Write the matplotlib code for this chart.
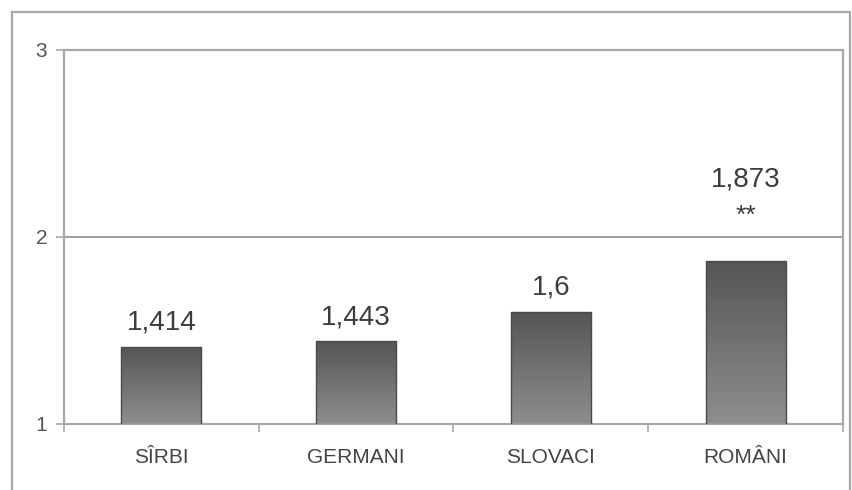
import numpy as np
import matplotlib.pyplot as plt
from matplotlib.colors import LinearSegmentedColormap
from matplotlib.patches import Rectangle

plt.rcParams['font.family'] = ['Liberation Sans', 'DejaVu Sans']

categories = ["SÎRBI", "GERMANI", "SLOVACI", "ROMÂNI"]
values = [1.414, 1.443, 1.6, 1.873]
labels = ["1,414", "1,443", "1,6", "1,873"]
marks = ["", "", "", "**"]
yticks = [1, 2, 3]

frame_col = "#a8a8a8"
text_col = "#3c3c3c"

fig = plt.figure(figsize=(8.52, 4.9), dpi=100)
ax = fig.add_axes([0.0751, 0.1347, 0.9143, 0.7633])

# outer border of the picture
fig.patches.append(Rectangle((12/852, -0.05), (850-12)/852, 1.05 - 12/490,
                             transform=fig.transFigure, fill=False,
                             edgecolor=frame_col, lw=1.6))

x = np.arange(len(categories))
bars = ax.bar(x, np.array(values) - 1, bottom=1, width=0.41,
              facecolor="none", edgecolor="#4a4a4a", lw=1.0, zorder=3)

cmap = LinearSegmentedColormap.from_list("g", ["#8e8e8e", "#555555"])
grad = np.linspace(0, 1, 256).reshape(-1, 1)
for b in bars:
    x0, y0 = b.get_x(), b.get_y()
    w, h = b.get_width(), b.get_height()
    im = ax.imshow(grad, cmap=cmap, origin="lower", aspect="auto",
                   extent=(x0, x0 + w, y0, y0 + h), zorder=2)
    im.set_clip_path(b)

for xi, v, lab, m in zip(x, values, labels, marks):
    if m:
        ax.annotate(m, (xi, v), xytext=(0, 32), textcoords="offset points",
                    ha="center", va="center", fontsize=19, color=text_col)
        ax.annotate(lab, (xi, v), xytext=(0, 49), textcoords="offset points",
                    ha="center", va="bottom", fontsize=20, color=text_col)
    else:
        ax.annotate(lab, (xi, v), xytext=(0, 8), textcoords="offset points",
                    ha="center", va="bottom", fontsize=20, color=text_col)

ax.set_xlim(-0.5, 3.5)
ax.set_ylim(1, 3)
ax.set_yticks(yticks)
ax.set_yticklabels([str(t) for t in yticks])
ax.axhline(2, color="#8a8a8a", lw=1.2, zorder=1)

ax.set_xticks(x)
ax.set_xticklabels(categories)
ax.set_xticks(np.arange(-0.5, 4, 1), minor=True)
ax.tick_params(axis="x", which="major", length=0, pad=17, labelsize=15,
               labelcolor="#444444")
ax.tick_params(axis="x", which="minor", length=6, width=1.2, color=frame_col)
ax.tick_params(axis="y", length=6, width=1.2, color=frame_col, pad=6,
               labelsize=15, labelcolor="#555555")

for s in ax.spines.values():
    s.set_color(frame_col)
    s.set_linewidth(1.6)

fig.savefig("out.png", dpi=100)
